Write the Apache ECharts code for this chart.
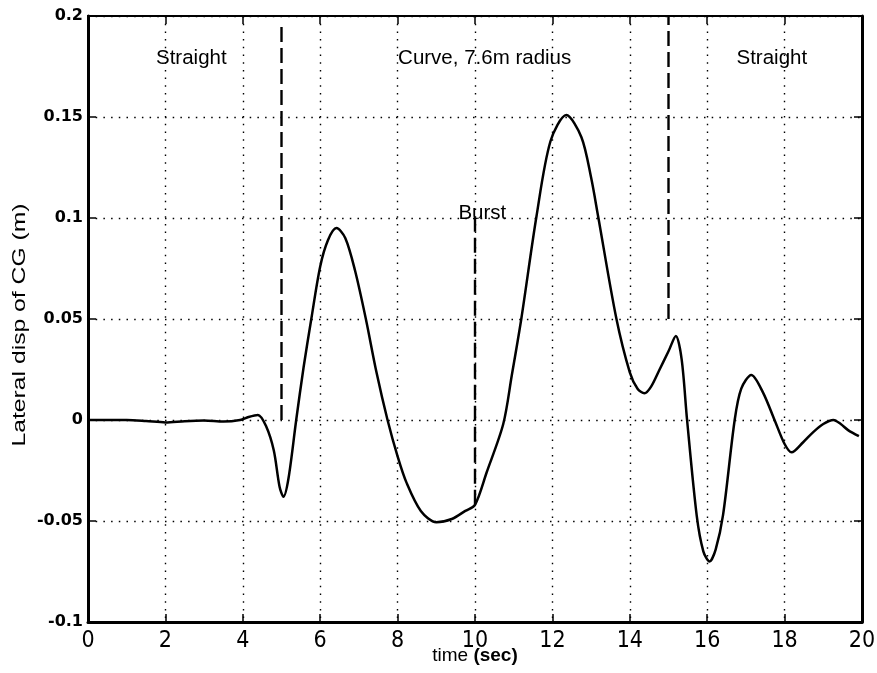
<!DOCTYPE html>
<html><head><meta charset="utf-8">
<script src="https://cdn.jsdelivr.net/npm/echarts@6/dist/echarts.min.js"></script>
<style>html,body{margin:0;padding:0;background:#fff}#c{width:877px;height:673px}</style>
</head><body><div id="c"></div><script>
// ---- data ----
const timeSec = [0,0.5,1,1.5,2,2.5,3,3.5,3.93,4.15,4.39,4.6,4.8,4.95,5.05,5.18,5.38,5.57,5.77,6.0,6.2,6.42,6.65,6.9,7.18,7.45,7.74,8.0,8.23,8.6,9.0,9.4,9.75,10.0,10.3,10.73,10.95,11.2,11.59,11.95,12.36,12.75,13.0,13.18,13.65,14.0,14.2,14.38,14.55,14.77,15.0,15.19,15.34,15.48,15.73,15.9,16.06,16.22,16.41,16.71,16.88,17.14,17.44,17.74,18.0,18.18,18.48,18.74,19.0,19.26,19.45,19.64,19.92];
const lateralDisp = [0,0,0,-0.0005,-0.0012,-0.0006,-0.0003,-0.0008,0,0.0015,0.0025,-0.003,-0.015,-0.033,-0.038,-0.029,0,0.026,0.05,0.076,0.089,0.095,0.09,0.074,0.05,0.024,0,-0.018,-0.031,-0.045,-0.0506,-0.049,-0.045,-0.042,-0.026,-0.002,0.022,0.0505,0.101,0.138,0.151,0.14,0.12,0.101,0.0505,0.0236,0.0155,0.0132,0.0165,0.025,0.034,0.0416,0.03,0,-0.0475,-0.065,-0.07,-0.064,-0.047,0,0.0155,0.0223,0.0137,0,-0.0119,-0.016,-0.011,-0.006,-0.002,0,-0.002,-0.005,-0.008];
const xTickLabels = ['0','2','4','6','8','10','12','14','16','18','20'];
const yTickLabels = ['-0.1','-0.05','0','0.05','0.1','0.15','0.2'];
// dashed event markers
const markerX = [5, 10, 15];
const markerFrom = [0, -0.042, 0.05];
const markerTo = [0.195, 0.1, 0.2];
// annotations
const noteText = ['Straight', 'Curve, 7.6m radius', 'Straight', 'Burst'];
const noteX = [2.67, 10.25, 17.67, 10.19];
const noteY = [0.179, 0.179, 0.179, 0.1025];

const chart = echarts.init(document.getElementById('c'), null, {renderer: 'canvas'});
const gridLine = {show: true, lineStyle: {color: '#000', width: 1.4, type: [1.5, 6.2]}};
const xBase = {type: 'value', min: 0, max: 20, interval: 2};
const yBase = {type: 'value', min: -0.1, max: 0.2, interval: 0.05};

const series = [{
  type: 'line', data: timeSec.map((t, i) => [t, lateralDisp[i]]),
  smooth: 0.3, symbol: 'none', lineStyle: {color: '#000', width: 2.5}, z: 5
}];
markerX.forEach((x, i) => {
  series.push({type: 'line', data: [[x, markerFrom[i]], [x, markerTo[i]]], symbol: 'none',
    lineStyle: {color: '#000', width: 2.4, type: [15, 6]}, z: 4});
});
series.push({
  type: 'scatter', symbolSize: 0, z: 6, itemStyle: {opacity: 1, color: '#000'},
  data: noteText.map((s, i) => ({name: s, value: [noteX[i], noteY[i]]})),
  label: {show: true, position: 'inside', formatter: '{b}', color: '#000', opacity: 1, textBorderWidth: 0,
    fontFamily: 'Liberation Sans, Arial, sans-serif', fontSize: 20.5}
});

chart.setOption({
  animation: false,
  backgroundColor: '#fff',
  grid: {left: 88, right: 15, top: 16, bottom: 51, containLabel: false, outerBoundsMode: 'none',
    show: true, borderColor: '#000', borderWidth: 2},
  xAxis: [
    Object.assign({}, xBase, {position: 'bottom',
      axisLine: {show: true, onZero: false, lineStyle: {color: '#000', width: 3}},
      axisTick: {show: true, inside: true, length: 8, lineStyle: {color: '#000', width: 1.5}},
      axisLabel: {margin: 8, color: '#000', fontSize: 23, fontFamily: 'Liberation Sans Narrow, DejaVu Sans Condensed, sans-serif',
        formatter: (v, i) => xTickLabels[i] ?? ''},
      splitLine: gridLine,
      name: '{a|time }{b|(sec)}', nameLocation: 'middle', nameGap: 24, nameMoveOverlap: false,
      nameTextStyle: {rich: {
        a: {fontFamily: 'Liberation Sans, Arial, sans-serif', fontSize: 19, color: '#000'},
        b: {fontFamily: 'Liberation Sans, Arial, sans-serif', fontSize: 19, fontWeight: 'bold', color: '#000'}}}
    }),
    Object.assign({}, xBase, {position: 'top',
      axisLine: {show: true, onZero: false, lineStyle: {color: '#000', width: 2}},
      axisTick: {show: true, inside: true, length: 8, lineStyle: {color: '#000', width: 1.5}},
      axisLabel: {show: false}, splitLine: {show: false}})
  ],
  yAxis: [
    Object.assign({}, yBase, {position: 'left',
      axisLine: {show: true, onZero: false, lineStyle: {color: '#000', width: 3}},
      axisTick: {show: true, inside: true, length: 8, lineStyle: {color: '#000', width: 1.5}},
      axisLabel: {margin: 5, color: '#000', fontSize: 16, fontWeight: 'bold', fontFamily: 'DejaVu Sans, sans-serif',
        formatter: (v, i) => yTickLabels[i] ?? ''},
      splitLine: gridLine}),
    Object.assign({}, yBase, {position: 'right',
      axisLine: {show: true, onZero: false, lineStyle: {color: '#000', width: 3}},
      axisTick: {show: true, inside: true, length: 8, lineStyle: {color: '#000', width: 1.5}},
      axisLabel: {show: false}, splitLine: {show: false}})
  ],
  graphic: [{
    type: 'text', rotation: Math.PI / 2, scaleX: 1.3,
    x: 20, y: 325, style: {text: 'Lateral disp of CG (m)', fill: '#000', font: '19px "Liberation Sans", Arial, sans-serif',
      align: 'center', verticalAlign: 'middle'}
  }],
  series: series
});
</script></body></html>
